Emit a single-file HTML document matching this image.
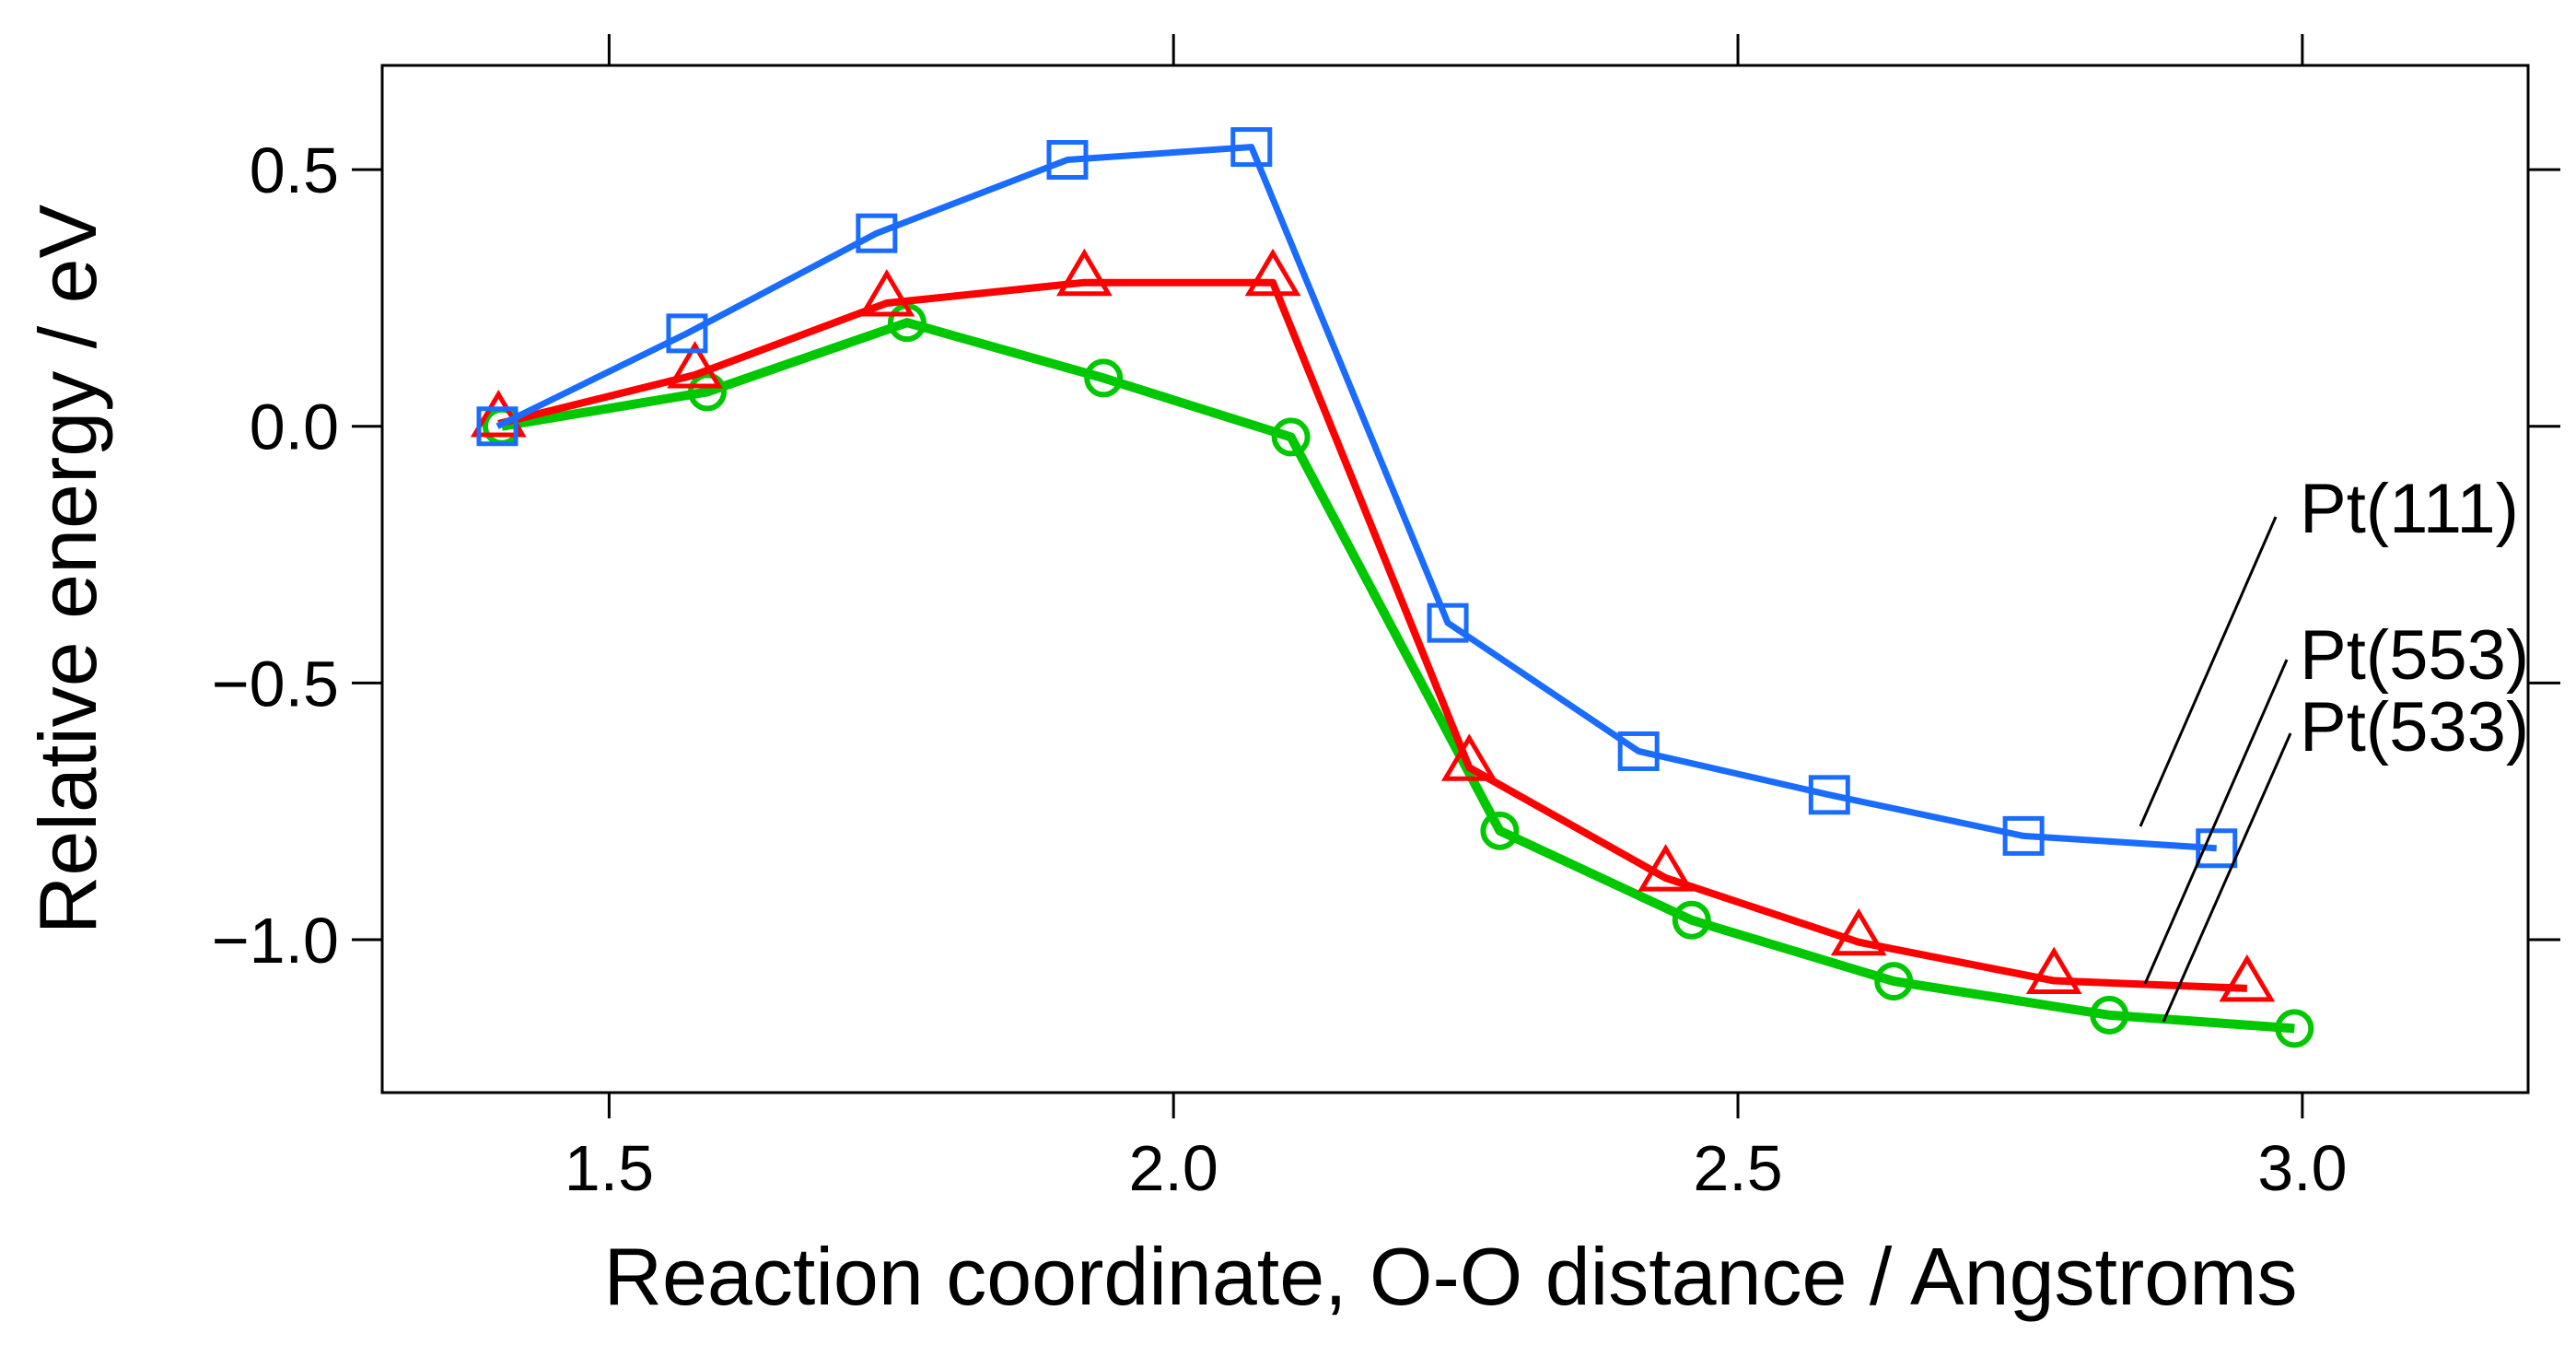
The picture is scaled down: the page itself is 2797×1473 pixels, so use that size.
<!DOCTYPE html>
<html><head><meta charset="utf-8"><style>
html,body{margin:0;padding:0;background:#fff;}
svg{display:block;font-family:"Liberation Sans",Arial,sans-serif;}
</style></head><body>
<svg id="chart" width="2797" height="1473" viewBox="0 0 2797 1473">
<g id="axes"></g>
<g id="series"></g>
<g id="labels"></g>
</svg>
<script>
const xTicks=[1.5,2.0,2.5,3.0];
const xTickLabels=["1.5","2.0","2.5","3.0"];
const yTicks=[0.5,0.0,-0.5,-1.0];
const yTickLabels=["0.5","0.0","\u22120.5","\u22121.0"];
const pt111X=[1.401,1.569,1.737,1.906,2.069,2.243,2.412,2.581,2.753,2.924];
const pt111Y=[0.0,0.181,0.376,0.519,0.544,-0.383,-0.633,-0.718,-0.798,-0.822];
const pt553X=[1.402,1.576,1.746,1.921,2.088,2.262,2.436,2.607,2.780,2.951];
const pt553Y=[0.005,0.10,0.24,0.28,0.28,-0.665,-0.88,-1.005,-1.08,-1.095];
const pt533X=[1.405,1.587,1.764,1.938,2.104,2.289,2.459,2.638,2.829,2.993];
const pt533Y=[0.0,0.067,0.202,0.094,-0.021,-0.788,-0.962,-1.081,-1.147,-1.173];

const L=415,R=2745,T=71,B=1186;
const X0=1.299,X1=3.2,Y0=-1.298,Y1=0.703;
const sx=v=>L+(v-X0)/(X1-X0)*(R-L);
const sy=v=>B-(v-Y0)/(Y1-Y0)*(B-T);
const NS="http://www.w3.org/2000/svg";
function mk(tag,attrs,parent){const e=document.createElementNS(NS,tag);for(const k in attrs)e.setAttribute(k,attrs[k]);parent.appendChild(e);return e;}
const axes=document.getElementById('axes');
const frame=mk('rect',{x:L,y:T,width:R-L,height:B-T,fill:'none',stroke:'#000','stroke-width':3},axes);


xTicks.forEach((v,i)=>{
  const x=sx(v);
  const t1=mk('line',{x1:x,y1:T,x2:x,y2:T-34,stroke:'#000','stroke-width':3},axes);
  
  
  const t2=mk('line',{x1:x,y1:B,x2:x,y2:B+28,stroke:'#000','stroke-width':3},axes);
  
  
  const lb=mk('text',{x:x,y:1292,'font-size':70,'text-anchor':'middle',fill:'#000'},axes);
  lb.textContent=xTickLabels[i];
  
  
});
yTicks.forEach((v,i)=>{
  const y=sy(v);
  const t1=mk('line',{x1:L,y1:y,x2:L-33,y2:y,stroke:'#000','stroke-width':3},axes);
  
  
  const t2=mk('line',{x1:R,y1:y,x2:R+35,y2:y,stroke:'#000','stroke-width':3},axes);
  
  
  const lb=mk('text',{x:368,y:y+25,'font-size':70,'text-anchor':'end',fill:'#000'},axes);
  lb.textContent=yTickLabels[i];
  
  
});
const xt=mk('text',{x:1575,y:1416,'font-size':88,'text-anchor':'middle',fill:'#000'},axes);
xt.textContent="Reaction coordinate, O-O distance / Angstroms";


const yt=mk('text',{x:0,y:0,'font-size':88,'text-anchor':'middle',fill:'#000',transform:'translate(104,618) rotate(-90)'},axes);
yt.textContent="Relative energy / eV";



const ser=document.getElementById('series');
function drawSeries(xs,ys,color,w,marker,name){
  const g=mk('g',{},ser);
  
  
  const pts=xs.map((x,i)=>sx(x)+','+sy(ys[i])).join(' ');
  const pl=mk('polyline',{points:pts,fill:'none',stroke:color,'stroke-width':w,'stroke-linejoin':'round'},g);
  
  
  xs.forEach((x,i)=>{
    const cx=sx(x),cy=sy(ys[i]);let m;
    if(marker==='square') m=mk('rect',{x:cx-20,y:cy-19,width:40,height:38,fill:'none',stroke:color,'stroke-width':5},g);
    else if(marker==='triangle') m=mk('polygon',{points:`${cx},${cy-32} ${cx-26},${cy+12} ${cx+26},${cy+12}`,fill:'none',stroke:color,'stroke-width':5},g);
    else m=mk('circle',{cx:cx,cy:cy,r:18,fill:'none',stroke:color,'stroke-width':6},g);
    
    
  });
}
drawSeries(pt533X,pt533Y,'#00c800',10,'circle','series-pt533');
drawSeries(pt553X,pt553Y,'#ff0000',8,'triangle','series-pt553');
drawSeries(pt111X,pt111Y,'#1a6cff',7,'square','series-pt111');

const lab=document.getElementById('labels');
const leaders=[[2471,561,2324,897,'Pt(111)',2497,578],[2483,716,2329,1068,'Pt(553)',2497,737],[2487,796,2349,1109,'Pt(533)',2497,815]];
leaders.forEach(l=>{
  const ln=mk('line',{x1:l[0],y1:l[1],x2:l[2],y2:l[3],stroke:'#000','stroke-width':3},lab);
  
  
  const t=mk('text',{x:l[5],y:l[6],'font-size':76,fill:'#000'},lab);
  t.textContent=l[4];
  
  
});
</script>
</body></html>
